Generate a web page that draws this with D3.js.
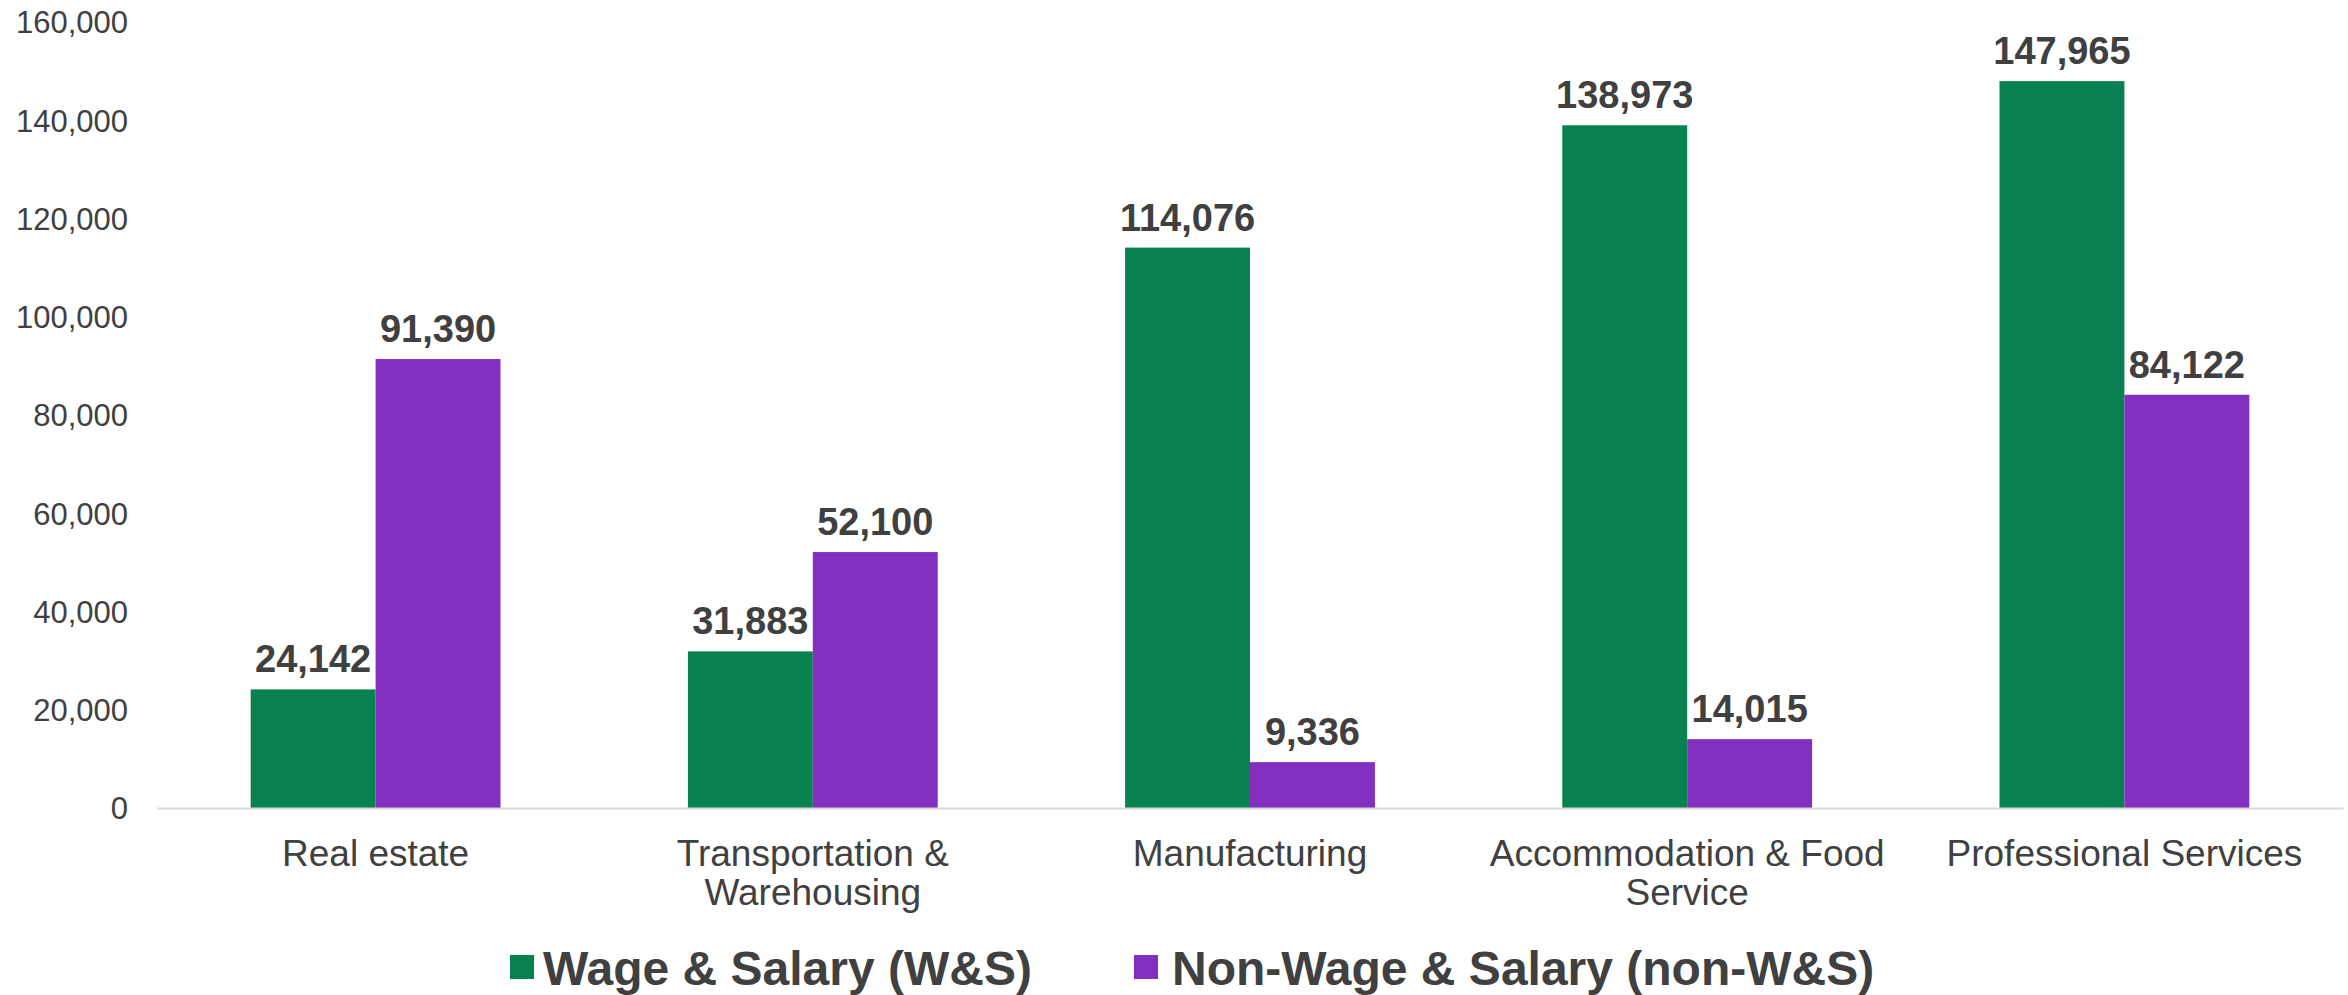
<!DOCTYPE html>
<html>
<head>
<meta charset="utf-8">
<script src="https://cdn.jsdelivr.net/npm/d3@7"></script>
<style>
    body { margin: 0; background: #fff; }
    svg { display: block; font-family: 'Liberation Sans', Arial, sans-serif; }
</style>
</head>
<body>
<svg></svg>
<script>
const categories = ['Real estate', 'Transportation & Warehousing', 'Manufacturing', 'Accommodation & Food Service', 'Professional Services'];
const seriesNames = ['Wage & Salary (W&S)', 'Non-Wage & Salary (non-W&S)'];
const wageSalary = [24142, 31883, 114076, 138973, 147965];
const nonWageSalary = [91390, 52100, 9336, 14015, 84122];
const yTicks = [0, 20000, 40000, 60000, 80000, 100000, 120000, 140000, 160000];

const colors = ['#06814f', '#832fbf'];
const textColor = '#404040';

let width = 2348;
let height = 995;
let plotLeft = 157;
let plotRight = 2343;
let plotTop = 22;
let plotBottom = 808;

let svg = d3.select('svg')
    .attr('width', width)
    .attr('height', height);

let xScale = d3.scaleBand()
    .domain(categories)
    .range([plotLeft, plotRight]);

// gap width 150% -> two bars take 2/3.5 of each band
let xInner = d3.scaleBand()
    .domain([0, 1])
    .range([0, xScale.bandwidth() * 2 / 3.5]);

let yScale = d3.scaleLinear()
    .domain([0, 160000])
    .range([plotBottom, plotTop]);

let rows = categories.map((c, i) => ({ cat: c, values: [wageSalary[i], nonWageSalary[i]] }));

// y axis labels
let yAxis = d3.axisLeft(yScale)
    .tickValues(yTicks)
    .tickFormat(d3.format(','))
    .tickSize(0)
    .tickPadding(0);

svg.append('g')
    .attr('transform', 'translate(128,0)')
    .call(yAxis)
    .call(g => g.select('.domain').remove())
    .call(g => g.selectAll('text')
        .attr('fill', textColor)
        .attr('font-size', 31)
        .attr('font-family', 'Liberation Sans, Arial, sans-serif')
        .attr('dy', '0.35em'));

// bars
let groups = svg.selectAll('.group')
    .data(rows)
    .enter()
    .append('g')
    .attr('class', 'group')
    .attr('transform', d => 'translate(' + (xScale(d.cat) + xScale.bandwidth() * 0.75 / 3.5) + ',0)');

groups.selectAll('rect')
    .data(d => d.values)
    .enter()
    .append('rect')
    .attr('x', (v, i) => xInner(i))
    .attr('y', v => yScale(v))
    .attr('width', xInner.bandwidth())
    .attr('height', v => yScale(0) - yScale(v))
    .attr('fill', (v, i) => colors[i]);

groups.selectAll('.value')
    .data(d => d.values)
    .enter()
    .append('text')
    .attr('class', 'value')
    .attr('x', (v, i) => xInner(i) + xInner.bandwidth() / 2)
    .attr('y', v => yScale(v) - 17)
    .attr('text-anchor', 'middle')
    .attr('font-size', 38)
    .attr('font-weight', 'bold')
    .attr('fill', textColor)
    .text(v => d3.format(',')(v));

// x axis line
let xAxis = d3.axisBottom(xScale)
    .tickSize(0)
    .tickPadding(0)
    .tickFormat('');

svg.append('g')
    .attr('transform', 'translate(0,' + plotBottom + ')')
    .call(xAxis)
    .call(g => g.select('.domain')
        .attr('stroke', '#d9d9d9')
        .attr('stroke-width', 2));

// category labels, wrapped to the band width
const wrapLabel = (sel, maxWidth) => {
    sel.each(function (d) {
        let text = d3.select(this);
        let words = d.split(' ');
        let line = [];
        let tspan = text.append('tspan').attr('x', 0).attr('dy', 0);
        words.forEach(w => {
            line.push(w);
            tspan.text(line.join(' '));
            if (tspan.node().getComputedTextLength() > maxWidth && line.length > 1) {
                line.pop();
                tspan.text(line.join(' '));
                line = [w];
                tspan = text.append('tspan').attr('x', 0).attr('dy', 39).text(w);
            }
        });
    });
};

svg.append('g')
    .selectAll('text')
    .data(categories)
    .enter()
    .append('text')
    .attr('transform', d => 'translate(' + (xScale(d) + xScale.bandwidth() / 2) + ',866)')
    .attr('text-anchor', 'middle')
    .attr('font-size', 37)
    .attr('fill', textColor)
    .call(wrapLabel, 420);

// legend
const legendX = [[510, 543], [1134, 1172]];

let legend = svg.append('g')
    .selectAll('g')
    .data(seriesNames)
    .enter()
    .append('g');

legend.append('rect')
    .attr('x', (d, i) => legendX[i][0])
    .attr('y', 955)
    .attr('width', 24)
    .attr('height', 24)
    .attr('fill', (d, i) => colors[i]);

legend.append('text')
    .attr('x', (d, i) => legendX[i][1])
    .attr('y', 985)
    .attr('font-size', 48)
    .attr('font-weight', 'bold')
    .attr('fill', textColor)
    .text(d => d);
</script>
</body>
</html>
